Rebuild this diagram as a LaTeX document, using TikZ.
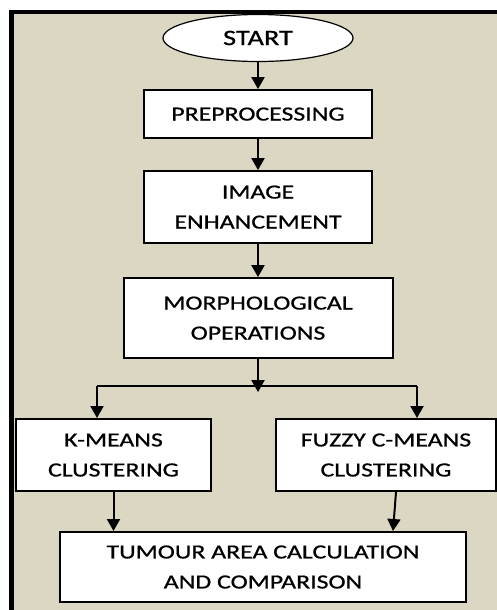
\documentclass[tikz,border=0pt]{standalone}
\usepackage{fontspec}
\setmainfont{Carlito}[FakeStretch=1.29, FakeBold=0.8]
\usetikzlibrary{shapes.geometric, arrows.meta, positioning}
\definecolor{panel}{RGB}{220,215,194}

\begin{document}
\begin{tikzpicture}[x=1pt, y=1pt, >={Triangle[length=12pt,width=13pt]},
  startnode/.style={ellipse, draw, line width=1.2pt, fill=white, minimum width=190pt, minimum height=47pt, inner sep=0pt, font=\fontsize{22}{26}\selectfont},
  stepbox/.style={rectangle, draw, line width=2pt, fill=white, minimum width=#1, minimum height=48pt, inner sep=0pt, align=center, font=\fontsize{20}{30}\selectfont},
  stepbox/.default=228pt,
  link/.style={->, line width=2pt}]
  \useasboundingbox (0,0) rectangle (497,-610);
  \fill[panel] (11.5,-12) rectangle (497,-610);
  \draw[line width=4.5pt] (11.5,-610) |- (497,-12);
  \node[startnode] (start) at (258,-38) {START};
  \node[stepbox, below=27pt of start] (prep) {PREPROCESSING};
  \node[stepbox, minimum height=72pt, below=31pt of prep] (enh) {IMAGE\\ENHANCEMENT};
  \node[stepbox=269pt, minimum height=80pt, below=33pt of enh] (morph) {MORPHOLOGICAL\\OPERATIONS};
  \coordinate[below=33pt of morph] (split);
  \coordinate (ksplit) at (97,-386);
  \coordinate (fsplit) at (417,-386);
  \node[stepbox=195pt, minimum height=72pt] (kmeans) at (113.5,-455) {K-MEANS\\CLUSTERING};
  \node[stepbox=220pt, minimum height=72pt] (fuzzy) at (386,-455) {FUZZY C-MEANS\\CLUSTERING};
  \node[stepbox=406pt, minimum height=70pt] (area) at (263,-567) {TUMOUR AREA CALCULATION\\AND COMPARISON};
  \draw[link] (start) -- (prep);
  \draw[link] (prep) -- (enh);
  \draw[link] (enh) -- (morph);
  \draw[link] (morph) -- (split);
  \draw[line width=2pt] (ksplit) -- (fsplit);
  \draw[link] (ksplit) -- (ksplit |- kmeans.north);
  \draw[link] (fsplit) -- (fsplit |- fuzzy.north);
  \draw[link] (kmeans) -- (kmeans |- area.north);
  \draw[link] ([xshift=10pt]fuzzy.south) -- ([xshift=7pt]fuzzy.south |- area.north);
\end{tikzpicture}
\end{document}
